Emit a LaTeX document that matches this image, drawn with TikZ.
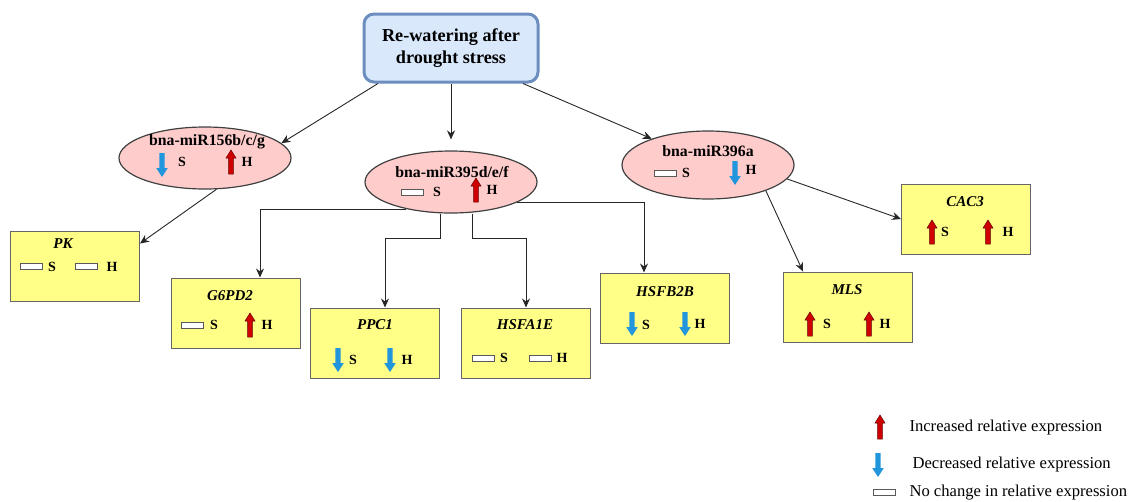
\documentclass[tikz,border=0pt]{standalone}
\usepackage{fontspec}
\setmainfont{Liberation Serif}
\usetikzlibrary{shapes.geometric,arrows.meta}
\definecolor{topfill}{HTML}{DAE8FC}
\definecolor{topedge}{HTML}{6C8EBF}
\definecolor{mirfill}{HTML}{FFCCCC}
\definecolor{genefill}{HTML}{FFFF88}
\definecolor{upred}{HTML}{D00000}
\definecolor{upedge}{HTML}{600000}
\definecolor{dnblue}{HTML}{2196DC}

\begin{document}
\begin{tikzpicture}[x=1pt,y=-1pt,
  conn/.style={draw=black!85, line width=0.9pt, -{Stealth[length=9pt,width=8pt]}},
  topbox/.style={rectangle, rounded corners=10pt, draw=topedge, line width=3pt, fill=topfill,
    minimum width=174pt, minimum height=68pt, align=center, font=\fontsize{18.2}{22}\selectfont\bfseries},
  mirna/.style={ellipse, draw=black!75, line width=1.2pt, fill=mirfill, minimum width=172pt, minimum height=62pt, inner sep=0pt},
  gene/.style={rectangle, draw=black!60, line width=1pt, fill=genefill, minimum width=129pt, minimum height=70pt, inner sep=0pt},
  mtitle/.style={font=\fontsize{15.8}{18}\selectfont\bfseries},
  gtitle/.style={font=\fontsize{15}{18}\selectfont\bfseries\itshape},
  tag/.style={font=\fontsize{14}{16}\selectfont\bfseries},
  legtext/.style={font=\fontsize{16.6}{18}\selectfont, anchor=west},
  uparr/.pic={\filldraw[fill=upred,draw=upedge,line width=0.5pt] (-2.3,12) -- (-2.3,-4) -- (-5,-4) -- (0,-12) -- (5,-4) -- (2.3,-4) -- (2.3,12) -- cycle;},
  dnarr/.pic={\fill[dnblue] (-2.6,-12) -- (-2.6,3) -- (-5.8,3) -- (0,12) -- (5.8,3) -- (2.6,3) -- (2.6,-12) -- cycle;},
  flatbar/.pic={\filldraw[fill=white,draw=black!65,line width=0.9pt] (-11,-3) rectangle (11,3);}
]
\useasboundingbox (0,0) rectangle (1146,501);

% treatment
\node[topbox] (top) at (451,48) {Re-watering after\\drought stress};

% miRNAs
\node[mirna] (e1) at (205,158) {};
\node[mtitle] (t1) at (207,142) {bna-miR156b/c/g};
\pic at (162,165) {dnarr}; \node[tag] (s1) at (182,162) {S};
\pic at (231,162) {uparr}; \node[tag] (h1) at (247,162) {H};

\node[mirna] (e2) at (451,182) {};
\node[mtitle] (t2) at (452,172) {bna-miR395d/e/f};
\pic at (412,192) {flatbar}; \node[tag] (s2) at (437,192) {S};
\pic at (476,190) {uparr}; \node[tag] (h2) at (492,190) {H};

\node[mirna, minimum height=68pt] (e3) at (708,165) {};
\node[mtitle] (t3) at (708,151) {bna-miR396a};
\pic at (665,173) {flatbar}; \node[tag] (s3) at (686,173) {S};
\pic at (735,173) {dnarr}; \node[tag] (h3) at (751,170) {H};

% targets
\node[gene] (pk) at (75,266) {};
\node[gtitle] (tpk) at (63,244) {PK};
\pic at (31,266) {flatbar}; \node[tag] (spk) at (52,267) {S};
\pic at (86,266) {flatbar}; \node[tag] (hpk) at (112,267) {H};

\node[gene] (g6) at (236,313) {};
\node[gtitle] (tg6) at (230,296) {G6PD2};
\pic at (192,325) {flatbar}; \node[tag] (sg6) at (214,325) {S};
\pic at (250,325) {uparr}; \node[tag] (hg6) at (267,325) {H};

\node[gene] (ppc) at (375,343) {};
\node[gtitle] (tppc) at (375,325) {PPC1};
\pic at (338,360) {dnarr}; \node[tag] (sppc) at (353,360) {S};
\pic at (390,360) {dnarr}; \node[tag] (hppc) at (407,360) {H};

\node[gene] (hsfa) at (526,343) {};
\node[gtitle] (thsfa) at (525,325) {HSFA1E};
\pic at (483,358) {flatbar}; \node[tag] (shsfa) at (504,358) {S};
\pic at (540,358) {flatbar}; \node[tag] (hhsfa) at (562,358) {H};

\node[gene] (hsfb) at (665,308) {};
\node[gtitle] (thsfb) at (665,292) {HSFB2B};
\pic at (632,324) {dnarr}; \node[tag] (shsfb) at (646,325) {S};
\pic at (685,324) {dnarr}; \node[tag] (hhsfb) at (700,324) {H};

\node[gene] (cac) at (966,219) {};
\node[gtitle] (tcac) at (965,202) {CAC3};
\pic at (932,232) {uparr}; \node[tag] (scac) at (945,232) {S};
\pic at (988,232) {uparr}; \node[tag] (hcac) at (1008,232) {H};

\node[gene] (mls) at (848,307) {};
\node[gtitle] (tmls) at (847,290) {MLS};
\pic at (810,324) {uparr}; \node[tag] (smls) at (827,324) {S};
\pic at (869,324) {uparr}; \node[tag] (hmls) at (885,324) {H};

% connectors
\draw[conn] ([xshift=-73pt]top.south) -- (e1.11);
\draw[conn, shorten >=11pt] (top) -- (e2);
\draw[conn] ([xshift=72pt]top.south) -- (e3.155);
\draw[conn] (e1.-70) -- ([yshift=-13pt]pk.north east);
\draw[conn] (e2.211) -| ([xshift=24pt]g6.north);
\draw[conn] ([xshift=-11pt]e2.south) -- ++(0,25) -| ([xshift=10pt]ppc.north);
\draw[conn] ([xshift=21pt]e2.south) -- ++(0,25) -| (hsfa.north);
\draw[conn] (e2.-17) -| ([xshift=-21pt]hsfb.north);
\draw[conn] (e3.-10) -- (cac.west);
\draw[conn] (e3.-24) -- ([xshift=20pt]mls.north west);

% legend
\pic at (880,427) {uparr}; \node[legtext] (l1) at (906,428) {Increased relative expression};
\pic at (878,465) {dnarr}; \node[legtext] (l2) at (909,465) {Decreased relative expression};
\pic at (884,492) {flatbar}; \node[legtext] (l3) at (906,493) {No change in relative expression};
\end{tikzpicture}
\end{document}
